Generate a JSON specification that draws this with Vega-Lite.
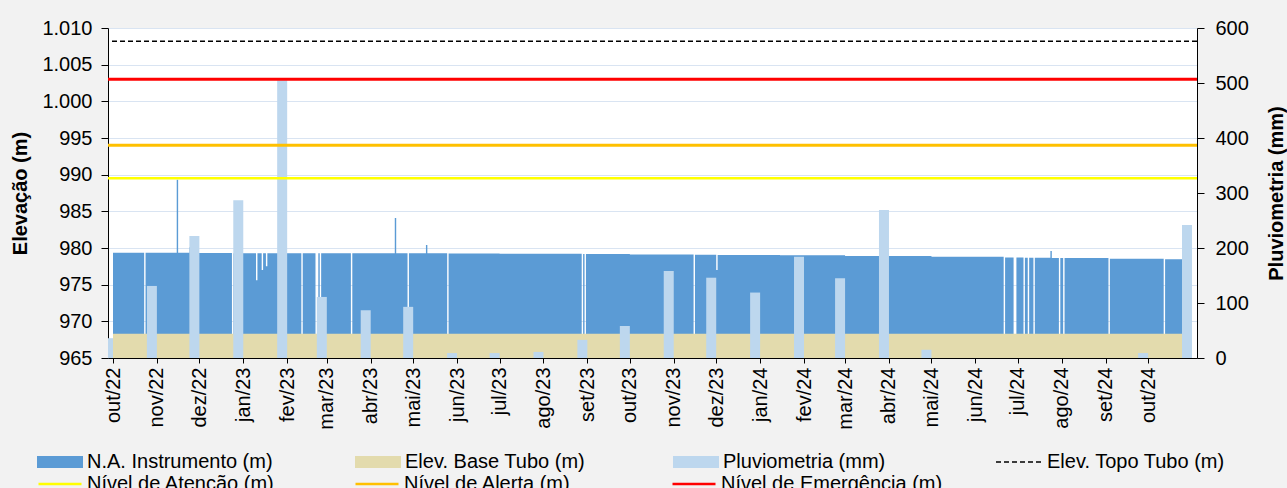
{
  "$schema": "https://vega.github.io/schema/vega-lite/v6.json",
  "width": 1089,
  "height": 330,
  "autosize": {"type": "none"},
  "padding": {"left": 108, "top": 28, "right": 90, "bottom": 130},
  "background": "#f2f2f2",
  "config": {
    "view": {"stroke": null, "fill": "#ffffff"},
    "font": "Liberation Sans",
    "axis": {
      "labelFont": "Liberation Sans", "titleFont": "Liberation Sans",
      "labelFontSize": 20, "titleFontSize": 20, "titleFontWeight": "bold",
      "labelColor": "#000000", "titleColor": "#000000",
      "domainColor": "#000000", "tickColor": "#000000",
      "domainWidth": 1, "tickWidth": 1
    },
    "legend": {
      "labelFont": "Liberation Sans", "labelFontSize": 20, "labelColor": "#000000",
      "labelOffset": 4, "labelLimit": 400, "padding": 0, "title": null,
      "clipHeight": 20, "symbolSize": 2116, "symbolOffset": 0, "rowPadding": 2
    }
  },
  "datasets": {
    "na": [
      {"date": "2022-10-01T00:00", "na": 979.35},
      {"date": "2022-10-23T00:00", "na": 965},
      {"date": "2022-10-24T00:00", "na": 979.35},
      {"date": "2022-11-15T00:00", "na": 989.3},
      {"date": "2022-11-16T00:00", "na": 979.35},
      {"date": "2022-11-24T00:00", "na": 980.1},
      {"date": "2022-11-25T00:00", "na": 979.33},
      {"date": "2022-12-24T00:00", "na": 965},
      {"date": "2022-12-25T00:00", "na": 979.3},
      {"date": "2023-01-10T00:00", "na": 975.6},
      {"date": "2023-01-11T00:00", "na": 979.3},
      {"date": "2023-01-14T00:00", "na": 977.0},
      {"date": "2023-01-15T00:00", "na": 979.3},
      {"date": "2023-01-17T00:00", "na": 977.5},
      {"date": "2023-01-18T00:00", "na": 979.3},
      {"date": "2023-02-11T00:00", "na": 965},
      {"date": "2023-02-12T00:00", "na": 979.3},
      {"date": "2023-02-21T00:00", "na": 965},
      {"date": "2023-02-23T00:00", "na": 979.3},
      {"date": "2023-02-24T00:00", "na": 965},
      {"date": "2023-02-25T00:00", "na": 979.3},
      {"date": "2023-03-18T00:00", "na": 965},
      {"date": "2023-03-19T00:00", "na": 979.28},
      {"date": "2023-04-18T00:00", "na": 984.1},
      {"date": "2023-04-19T00:00", "na": 979.28},
      {"date": "2023-04-27T00:00", "na": 965},
      {"date": "2023-04-28T00:00", "na": 979.27},
      {"date": "2023-05-10T00:00", "na": 980.4},
      {"date": "2023-05-11T00:00", "na": 979.27},
      {"date": "2023-05-25T00:00", "na": 965},
      {"date": "2023-05-26T00:00", "na": 979.25},
      {"date": "2023-07-01T00:00", "na": 979.22},
      {"date": "2023-08-28T00:00", "na": 965},
      {"date": "2023-08-29T00:00", "na": 979.18},
      {"date": "2023-08-30T00:00", "na": 965},
      {"date": "2023-08-31T00:00", "na": 979.18},
      {"date": "2023-10-01T00:00", "na": 979.12},
      {"date": "2023-11-15T00:00", "na": 965},
      {"date": "2023-11-16T00:00", "na": 979.07},
      {"date": "2023-12-01T00:00", "na": 977.0},
      {"date": "2023-12-02T00:00", "na": 979.05},
      {"date": "2024-01-15T00:00", "na": 979.0},
      {"date": "2024-03-01T00:00", "na": 978.9},
      {"date": "2024-05-01T00:00", "na": 978.8},
      {"date": "2024-06-21T00:00", "na": 965},
      {"date": "2024-06-22T00:00", "na": 978.7},
      {"date": "2024-06-28T00:00", "na": 965},
      {"date": "2024-06-30T00:00", "na": 978.7},
      {"date": "2024-07-05T00:00", "na": 965},
      {"date": "2024-07-06T00:00", "na": 978.68},
      {"date": "2024-07-08T00:00", "na": 965},
      {"date": "2024-07-09T00:00", "na": 978.68},
      {"date": "2024-07-12T00:00", "na": 965},
      {"date": "2024-07-13T00:00", "na": 978.66},
      {"date": "2024-07-24T00:00", "na": 979.6},
      {"date": "2024-07-25T00:00", "na": 978.65},
      {"date": "2024-07-30T00:00", "na": 965},
      {"date": "2024-07-31T00:00", "na": 978.65},
      {"date": "2024-08-02T00:00", "na": 965},
      {"date": "2024-08-03T00:00", "na": 978.62},
      {"date": "2024-09-03T00:00", "na": 965},
      {"date": "2024-09-04T00:00", "na": 978.55},
      {"date": "2024-10-12T00:00", "na": 965},
      {"date": "2024-10-13T00:00", "na": 978.45},
      {"date": "2024-10-29T00:00", "na": 978.4}
    ],
    "base": [
      {"date": "2022-10-01T00:00", "base": 968.3},
      {"date": "2024-10-29T00:00", "base": 968.3}
    ],
    "rain": [
      {"date": "2022-10-01T00:00", "rain": 36},
      {"date": "2022-11-01T00:00", "rain": 131},
      {"date": "2022-12-01T00:00", "rain": 222},
      {"date": "2023-01-01T00:00", "rain": 287},
      {"date": "2023-02-01T00:00", "rain": 505},
      {"date": "2023-03-01T00:00", "rain": 111},
      {"date": "2023-04-01T00:00", "rain": 87},
      {"date": "2023-05-01T00:00", "rain": 93},
      {"date": "2023-06-01T00:00", "rain": 9},
      {"date": "2023-07-01T00:00", "rain": 9},
      {"date": "2023-08-01T00:00", "rain": 11},
      {"date": "2023-09-01T00:00", "rain": 33},
      {"date": "2023-10-01T00:00", "rain": 58},
      {"date": "2023-11-01T00:00", "rain": 158},
      {"date": "2023-12-01T00:00", "rain": 146},
      {"date": "2024-01-01T00:00", "rain": 119},
      {"date": "2024-02-01T00:00", "rain": 184},
      {"date": "2024-03-01T00:00", "rain": 145},
      {"date": "2024-04-01T00:00", "rain": 269},
      {"date": "2024-05-01T00:00", "rain": 15},
      {"date": "2024-06-01T00:00", "rain": 0},
      {"date": "2024-07-01T00:00", "rain": 0},
      {"date": "2024-08-01T00:00", "rain": 0},
      {"date": "2024-09-01T00:00", "rain": 0},
      {"date": "2024-10-01T00:00", "rain": 9},
      {"date": "2024-11-01T00:00", "rain": 242}
    ]
  },
  "resolve": {"scale": {"y": "independent"}},
  "layer": [
    {
      "data": {"name": "na"},
      "mark": {"type": "area", "interpolate": "step-after", "opacity": 1, "fillOpacity": 1},
      "encoding": {
        "x": {
          "field": "date", "type": "temporal",
          "scale": {"domain": [{"year": 2022, "month": 10, "date": 1}, {"year": 2024, "month": 11, "date": 1}]},
          "axis": {
            "title": null,
            "values": [
              {"year": 2022, "month": 10, "date": 1}, {"year": 2022, "month": 11, "date": 1}, {"year": 2022, "month": 12, "date": 1},
              {"year": 2023, "month": 1, "date": 1}, {"year": 2023, "month": 2, "date": 1}, {"year": 2023, "month": 3, "date": 1},
              {"year": 2023, "month": 4, "date": 1}, {"year": 2023, "month": 5, "date": 1}, {"year": 2023, "month": 6, "date": 1},
              {"year": 2023, "month": 7, "date": 1}, {"year": 2023, "month": 8, "date": 1}, {"year": 2023, "month": 9, "date": 1},
              {"year": 2023, "month": 10, "date": 1}, {"year": 2023, "month": 11, "date": 1}, {"year": 2023, "month": 12, "date": 1},
              {"year": 2024, "month": 1, "date": 1}, {"year": 2024, "month": 2, "date": 1}, {"year": 2024, "month": 3, "date": 1},
              {"year": 2024, "month": 4, "date": 1}, {"year": 2024, "month": 5, "date": 1}, {"year": 2024, "month": 6, "date": 1},
              {"year": 2024, "month": 7, "date": 1}, {"year": 2024, "month": 8, "date": 1}, {"year": 2024, "month": 9, "date": 1},
              {"year": 2024, "month": 10, "date": 1}
            ],
            "labelExpr": "['jan','fev','mar','abr','mai','jun','jul','ago','set','out','nov','dez'][month(datum.value)] + '/' + timeFormat(datum.value, '%y')",
            "labelAngle": -90, "labelAlign": "right", "labelBaseline": "middle",
            "tickSize": 5, "labelPadding": 4, "grid": false,
            "labelFlush": false, "labelOverlap": false, "labelBound": false
          }
        },
        "y": {
          "field": "na", "type": "quantitative",
          "scale": {"domain": [965, 1010], "zero": false, "nice": false},
          "axis": {
            "orient": "left", "title": "Elevação (m)",
            "values": [965, 970, 975, 980, 985, 990, 995, 1000, 1005, 1010],
            "labelExpr": "datum.value >= 1000 ? replace(format(datum.value, ','), ',', '.') : format(datum.value, 'd')",
            "tickSize": 7, "labelPadding": 9, "titlePadding": 11,
            "grid": true, "gridColor": "#d9e4f2", "gridWidth": 1,
            "labelFlush": false, "labelOverlap": false
          }
        },
        "y2": {"datum": 965},
        "fill": {
          "datum": "N.A. Instrumento (m)", "type": "nominal",
          "scale": {
            "domain": ["N.A. Instrumento (m)", "Elev. Base Tubo (m)", "Pluviometria (mm)"],
            "range": ["#5b9bd5", "#e3dbad", "#bdd7ee"]
          },
          "legend": {
            "orient": "none", "legendX": -71, "legendY": 424,
            "direction": "horizontal", "columns": 3, "gridAlign": "all",
            "columnPadding": 82,
            "symbolType": "M-1,-0.26H1V0.26H-1Z", "symbolStrokeWidth": 0
          }
        }
      }
    },
    {
      "data": {"name": "base"},
      "mark": {"type": "area", "opacity": 1, "fillOpacity": 1},
      "encoding": {
        "x": {"field": "date", "type": "temporal"},
        "y": {"field": "base", "type": "quantitative", "scale": {"domain": [965, 1010], "zero": false, "nice": false}, "axis": null},
        "y2": {"datum": 965},
        "fill": {"datum": "Elev. Base Tubo (m)", "type": "nominal"}
      }
    },
    {
      "data": {"name": "rain"},
      "mark": {"type": "bar", "width": 10, "xOffset": -5, "clip": true, "opacity": 1},
      "encoding": {
        "x": {"field": "date", "type": "temporal"},
        "y": {
          "field": "rain", "type": "quantitative",
          "scale": {"domain": [0, 600], "nice": false},
          "axis": {
            "orient": "right", "title": "Pluviometria (mm)",
            "values": [0, 100, 200, 300, 400, 500, 600],
            "tickSize": 7, "labelPadding": 11, "grid": false,
            "titleAngle": 270, "titleBaseline": "top", "titlePadding": 18,
            "labelFlush": false, "labelOverlap": false
          }
        },
        "fill": {"datum": "Pluviometria (mm)", "type": "nominal"}
      }
    },
    {
      "data": {"values": [{}]},
      "mark": {"type": "rule", "strokeWidth": 1.5, "color": "#000000"},
      "encoding": {
        "y": {"datum": 1008.2, "type": "quantitative", "scale": {"domain": [965, 1010], "zero": false, "nice": false}, "axis": null},
        "strokeDash": {
          "datum": "Elev. Topo Tubo (m)", "type": "nominal",
          "scale": {"domain": ["Elev. Topo Tubo (m)"], "range": [[5, 3]]},
          "legend": {
            "orient": "none", "legendX": 887, "legendY": 424,
            "symbolType": "stroke", "symbolStrokeColor": "#000000", "symbolStrokeWidth": 1.5
          }
        }
      }
    },
    {
      "data": {"values": [{}]},
      "mark": {"type": "rule", "strokeWidth": 2.5},
      "encoding": {
        "y": {"datum": 989.5, "type": "quantitative", "scale": {"domain": [965, 1010], "zero": false, "nice": false}, "axis": null},
        "stroke": {
          "datum": "Nível de Atenção (m)", "type": "nominal",
          "scale": {
            "domain": ["Nível de Atenção (m)", "Nível de Alerta (m)", "Nível de Emergência (m)"],
            "range": ["#ffff00", "#ffc000", "#ff0000"]
          },
          "legend": {
            "orient": "none", "legendX": -71, "legendY": 446,
            "direction": "horizontal", "columns": 3, "gridAlign": "all",
            "columnPadding": 45, "symbolSize": 1849,
            "symbolType": "stroke", "symbolStrokeWidth": 2.5
          }
        }
      }
    },
    {
      "data": {"values": [{}]},
      "mark": {"type": "rule", "strokeWidth": 3},
      "encoding": {
        "y": {"datum": 994.0, "type": "quantitative", "scale": {"domain": [965, 1010], "zero": false, "nice": false}, "axis": null},
        "stroke": {"datum": "Nível de Alerta (m)", "type": "nominal"}
      }
    },
    {
      "data": {"values": [{}]},
      "mark": {"type": "rule", "strokeWidth": 3},
      "encoding": {
        "y": {"datum": 1003.0, "type": "quantitative", "scale": {"domain": [965, 1010], "zero": false, "nice": false}, "axis": null},
        "stroke": {"datum": "Nível de Emergência (m)", "type": "nominal"}
      }
    }
  ]
}
